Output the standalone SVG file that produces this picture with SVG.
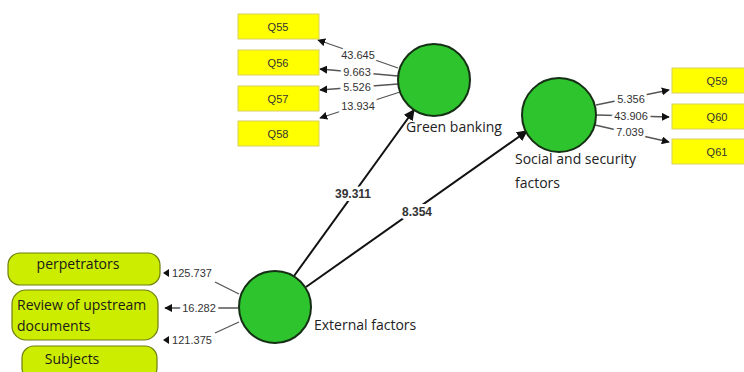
<svg xmlns="http://www.w3.org/2000/svg" width="744" height="372" viewBox="0 0 744 372">
<style>
.q{fill:#ffff00;stroke:#d8d060;stroke-width:1}
.qt{font-family:"Liberation Sans",Arial,sans-serif;font-size:11px;fill:#333;text-anchor:middle}
.lv{fill:#2ec42e;stroke:#153015;stroke-width:2}
.lt{font-family:"Open Sans","DejaVu Sans",sans-serif;font-size:14px;fill:#222}
.f{fill:#ccec00;stroke:#6f7f10;stroke-width:1.2}
.ft{font-family:"Open Sans","DejaVu Sans",sans-serif;font-size:14px;fill:#1a1a1a}
.ol{stroke:#555;stroke-width:1.3;fill:none}
.sl{stroke:#111;stroke-width:2;fill:none}
.num{font-family:"Liberation Sans",Arial,sans-serif;font-size:11px;fill:#333;text-anchor:middle;stroke:#fff;stroke-width:6;paint-order:stroke}
.pnum{font-family:"Liberation Sans",Arial,sans-serif;font-size:12px;font-weight:bold;fill:#333;text-anchor:middle;stroke:#fff;stroke-width:6;paint-order:stroke}
.tip{fill:#111}
</style>
<defs>
<marker id="ah" viewBox="0 0 10 10" refX="9" refY="5" markerWidth="8" markerHeight="8" markerUnits="userSpaceOnUse" orient="auto"><path d="M0,0 L10,5 L0,10 Z" fill="#111"/></marker>
<marker id="ahb" viewBox="0 0 10 10" refX="9" refY="5" markerWidth="11" markerHeight="11" markerUnits="userSpaceOnUse" orient="auto"><path d="M0,0 L10,5 L0,10 Z" fill="#111"/></marker>
</defs>
<rect width="744" height="372" fill="#fff"/>
<g id="connectors">
<line class="sl" x1="294" y1="276" x2="414" y2="110" marker-end="url(#ahb)"/>
<line class="sl" x1="306" y1="287" x2="527" y2="131" marker-end="url(#ahb)"/>
<text class="pnum" x="353" y="198">39.311</text>
<text class="pnum" x="417" y="216">8.354</text>
<line class="ol" x1="398" y1="68" x2="318" y2="40" marker-end="url(#ah)"/>
<line class="ol" x1="398" y1="76" x2="320" y2="69" marker-end="url(#ah)"/>
<line class="ol" x1="398" y1="84" x2="320" y2="90" marker-end="url(#ah)"/>
<line class="ol" x1="400" y1="92" x2="320" y2="118" marker-end="url(#ah)"/>
<text class="num" x="358" y="59">43.645</text>
<text class="num" x="357" y="76">9.663</text>
<text class="num" x="357" y="91">5.526</text>
<text class="num" x="358" y="110">13.934</text>
<line class="ol" x1="596" y1="105" x2="669" y2="90" marker-end="url(#ah)"/>
<line class="ol" x1="597" y1="115" x2="669" y2="117" marker-end="url(#ah)"/>
<line class="ol" x1="595" y1="125" x2="669" y2="142" marker-end="url(#ah)"/>
<text class="num" x="631" y="103">5.356</text>
<text class="num" x="631" y="120">43.906</text>
<text class="num" x="630" y="136">7.039</text>
<line class="ol" x1="239" y1="294" x2="215" y2="282"/>
<line class="ol" x1="238" y1="308" x2="165" y2="308" marker-end="url(#ah)"/>
<line class="ol" x1="239" y1="322" x2="215" y2="333"/>
<path class="tip" d="M163,273 L169,269 L169,277 Z"/>
<path class="tip" d="M163,340 L169,336 L169,344 Z"/>
<text class="num" x="192" y="277">125.737</text>
<text class="num" x="199" y="312">16.282</text>
<text class="num" x="192" y="344">121.375</text>
</g>
<g id="Q55"><rect class="q" x="238" y="14" width="81" height="25"/><text class="qt" x="278" y="31">Q55</text></g>
<g id="Q56"><rect class="q" x="238" y="50" width="81" height="25"/><text class="qt" x="278" y="67">Q56</text></g>
<g id="Q57"><rect class="q" x="238" y="86" width="81" height="25"/><text class="qt" x="278" y="103">Q57</text></g>
<g id="Q58"><rect class="q" x="238" y="121" width="81" height="25"/><text class="qt" x="278" y="138">Q58</text></g>
<g id="Q59"><rect class="q" x="672" y="68" width="90" height="25"/><text class="qt" x="717" y="85">Q59</text></g>
<g id="Q60"><rect class="q" x="672" y="104" width="90" height="25"/><text class="qt" x="717" y="121">Q60</text></g>
<g id="Q61"><rect class="q" x="672" y="139" width="90" height="25"/><text class="qt" x="717" y="156">Q61</text></g>
<g id="green-banking"><circle class="lv" cx="434" cy="80" r="36"/><text class="lt" x="406" y="132">Green banking</text></g>
<g id="social-security"><circle class="lv" cx="559" cy="115" r="37"/><text class="lt" x="515" y="164">Social and security</text><text class="lt" x="515" y="188">factors</text></g>
<g id="external-factors"><circle class="lv" cx="275" cy="307" r="36"/><text class="lt" x="314" y="330">External factors</text></g>
<g id="perpetrators"><rect class="f" x="8" y="253" width="152" height="32" rx="12"/><text class="ft" x="78" y="269" text-anchor="middle">perpetrators</text></g>
<g id="review"><rect class="f" x="12" y="290" width="146" height="50" rx="14"/><text class="ft" x="17" y="310">Review of upstream</text><text class="ft" x="17" y="331">documents</text></g>
<g id="subjects"><rect class="f" x="22" y="346" width="135" height="34" rx="12"/><text class="ft" x="72" y="364" text-anchor="middle">Subjects</text></g>
</svg>
